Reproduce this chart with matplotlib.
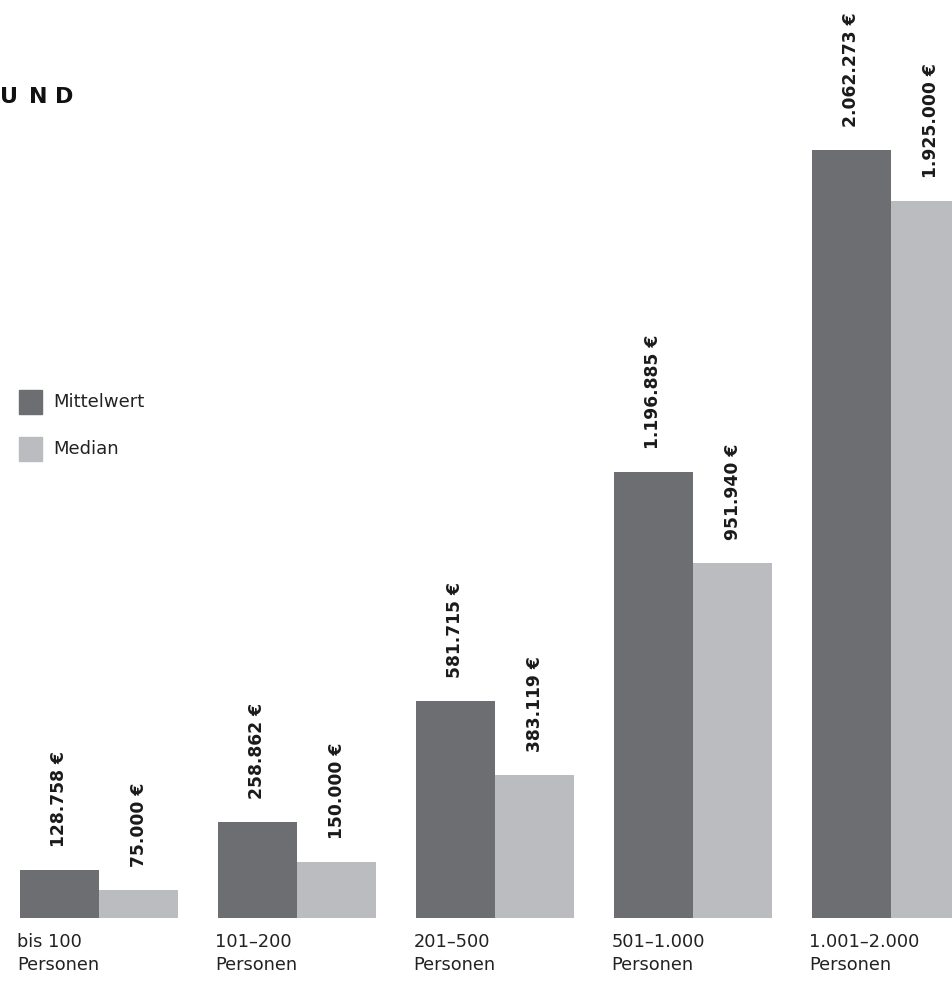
import numpy as np
import matplotlib.pyplot as plt
import matplotlib.transforms as mtransforms
from matplotlib.patches import Rectangle

kategorien = ['bis 100\nPersonen', '101–200\nPersonen', '201–500\nPersonen',
              '501–1.000\nPersonen', '1.001–2.000\nPersonen']
mittelwert = [128758, 258862, 581715, 1196885, 2062273]
median = [75000, 150000, 383119, 951940, 1925000]
serien = ['Mittelwert', 'Median']

dunkel = '#6d6e72'
hell = '#bbbcc0'

W, H = 953, 981
fig = plt.figure(figsize=(W / 100, H / 100), dpi=100)
plt.rcParams['font.family'] = ['DejaVu Sans']

# achse: unten bei pixel 918, oben bis 0
basis = 918
ax = fig.add_axes([0, (H - basis) / H, 1, basis / H])
ax.axis('off')

gruppe_px = 198
mitte0_px = 99
ax.set_xlim(-mitte0_px / gruppe_px, (W - mitte0_px) / gruppe_px)
px_pro_einheit = 768 / 2062273
ax.set_ylim(0, basis / px_pro_einheit)

x = np.arange(len(kategorien))
w = 0.4
b1 = ax.bar(x - w / 2, mittelwert, w, color=dunkel)
b2 = ax.bar(x + w / 2, median, w, color=hell)

def euro(v):
    return f'{v:,}'.replace(',', '.') + ' €'

for bars, werte in [(b1, mittelwert), (b2, median)]:
    for b, v in zip(bars, werte):
        ax.annotate(euro(v), (b.get_x() + b.get_width() / 2, v),
                    xytext=(0, 23), textcoords='offset pixels',
                    rotation=90, ha='center', va='bottom',
                    fontsize=12.3, fontweight='bold', color='#1a1a1a')

# kategorien unter den balken
trans = mtransforms.blended_transform_factory(ax.transData, fig.transFigure)
for i, k in enumerate(kategorien):
    ax.text(i - w - 0.012, 1 - 933 / H, k, transform=trans, ha='left', va='top',
            fontsize=12.8, color='#222222', linespacing=1.38)

# legende
for j, (name, c) in enumerate(zip(serien, [dunkel, hell])):
    y_mitte = 402 + j * 47
    fig.patches.append(Rectangle((19 / W, 1 - (y_mitte + 12) / H), 23 / W, 24 / H,
                                 transform=fig.transFigure, color=c))
    fig.text(53 / W, 1 - y_mitte / H, name, ha='left', va='center',
             fontsize=13, color='#222222')

# abgeschnittener titel, gesperrt
for buchstabe, xp in [('U', 0), ('N', 29), ('D', 55)]:
    fig.text(xp / W, 1 - 103 / H, buchstabe, ha='left', va='baseline',
             fontsize=16, fontweight='bold', color='#111111')

fig.savefig('out.png', dpi=100)
plt.close()
